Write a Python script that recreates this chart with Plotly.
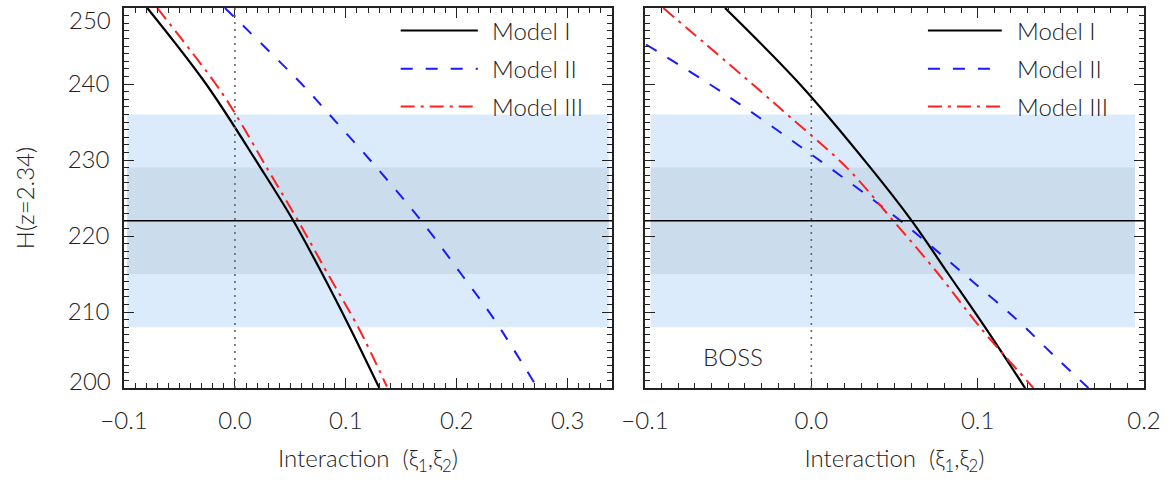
import plotly.graph_objects as go

# ---------------- data ----------------
# Observed H(z=2.34) (BOSS) and its 1-sigma error
H_OBS = 222.0
H_SIG = 7.0
XI_REF = 0.0

# Left panel
L_XI_I = [-0.079, -0.026, 0.023, 0.0527, 0.0792, 0.1038, 0.1302]
L_H_I = [250.0, 240.0, 229.0, 222.0, 214.9, 207.9, 200.0]
L_XI_II = [-0.009, 0.0602, 0.0851, 0.1278, 0.168, 0.2045, 0.233, 0.272]
L_H_II = [250.0, 240.0, 236.0, 229.0, 222.0, 214.9, 209.2, 200.2]
L_XI_III = [-0.070, -0.0173, 0.0007, 0.0287, 0.057, 0.0842, 0.1115, 0.137]
L_H_III = [250.0, 240.0, 236.0, 229.0, 222.0, 214.9, 207.9, 200.2]

# Right panel
R_XI_I = [-0.0519, -0.007, 0.0355, 0.0604, 0.0824, 0.1044, 0.1285]
R_H_I = [250.0, 240.0, 229.0, 222.0, 215.0, 208.0, 200.0]
R_XI_II = [-0.0994, -0.0529, 0.0002, 0.0513, 0.0724, 0.0954, 0.1235, 0.1476, 0.1666]
R_H_II = [245.2, 238.8, 230.7, 222.4, 218.6, 214.3, 209.0, 203.9, 200.0]
R_XI_III = [-0.089, -0.0355, -0.0146, 0.0213, 0.0493, 0.0764, 0.1014, 0.1335]
R_H_III = [250.0, 240.0, 236.0, 229.0, 222.0, 215.0, 208.0, 200.0]

MODEL_NAMES = ["Model I", "Model II", "Model III"]
X_TICKS_L = [-0.1, 0.0, 0.1, 0.2, 0.3]
X_TICKS_R = [-0.1, 0.0, 0.1, 0.2]
Y_TICKS = [210, 220, 230, 240]
Y_END_TICKS = [250, 200]

# ---------------- style ----------------
FONT = "Lato, DejaVu Sans, sans-serif"
TXT = "#222222"
AX = "#222222"
STY = [
    dict(color="black", width=2.2, dash="solid"),
    dict(color="#1a1aff", width=2, dash="12px,13px"),
    dict(color="#ff2020", width=2, dash="14px,6px,3px,6px"),
]
LIGHT = "#dcebfb"
DARK = "#cbdcec"


def fnt(size=24):
    return dict(family=FONT, size=size, color=TXT, weight=300)


W, H = 1172, 480
fig = go.Figure()

panels = [
    ("x", "y", [L_XI_I, L_XI_II, L_XI_III], [L_H_I, L_H_II, L_H_III], [-0.097, 0.337]),
    ("x2", "y2", [R_XI_I, R_XI_II, R_XI_III], [R_H_I, R_H_II, R_H_III], [-0.0966, 0.1946]),
]

for xa, ya, xs, hs, band_x in panels:
    # bands
    fig.add_shape(type="rect", xref=xa, yref=ya, x0=band_x[0], x1=band_x[1],
                  y0=H_OBS - 2 * H_SIG, y1=H_OBS + 2 * H_SIG,
                  fillcolor=LIGHT, line_width=0, layer="below")
    fig.add_shape(type="rect", xref=xa, yref=ya, x0=band_x[0], x1=band_x[1],
                  y0=H_OBS - H_SIG, y1=H_OBS + H_SIG,
                  fillcolor=DARK, line_width=0, layer="below")
    # reference lines
    fig.add_shape(type="line", xref=xa + " domain", yref=ya, x0=0, x1=1,
                  y0=H_OBS, y1=H_OBS, line=dict(color="black", width=1.5))
    fig.add_shape(type="line", xref=xa, yref=ya + " domain", x0=XI_REF, x1=XI_REF,
                  y0=0, y1=1, line=dict(color="#666666", width=1.6, dash="2px,5px"))
    for i in range(3):
        fig.add_trace(go.Scatter(x=xs[i], y=hs[i], mode="lines", name=MODEL_NAMES[i],
                                 xaxis=xa, yaxis=ya,
                                 line=dict(shape="spline", smoothing=1.0, **STY[i]),
                                 showlegend=False, cliponaxis=True))

# legends (drawn in axis-domain coordinates)
leg_rows = [0.941, 0.840, 0.741]
leg_geo = [("x", "y", 0.567, 0.725, 0.750), ("x2", "y2", 0.567, 0.715, 0.741)]
for xa, ya, lx0, lx1, tx in leg_geo:
    for i in range(3):
        fig.add_shape(type="line", xref=xa + " domain", yref=ya + " domain",
                      x0=lx0, x1=lx1, y0=leg_rows[i], y1=leg_rows[i],
                      line=dict(color=STY[i]["color"], width=2, dash=STY[i]["dash"]))
        fig.add_annotation(xref=xa + " domain", yref=ya + " domain", x=tx, y=leg_rows[i],
                           text=MODEL_NAMES[i], showarrow=False, xanchor="left", yanchor="middle",
                           font=fnt())

fig.add_annotation(xref="x2 domain", yref="y2 domain", x=0.177, y=0.083, text="BOSS",
                   showarrow=False, xanchor="center", yanchor="middle", font=fnt())

# end tick labels of the y axis (shifted inward as in the original)
fig.add_annotation(xref="paper", yref="y", x=112.7 / W, y=Y_END_TICKS[0], text=str(Y_END_TICKS[0]),
                   showarrow=False, xanchor="right", yanchor="middle", yshift=-11, font=fnt())
fig.add_annotation(xref="paper", yref="y", x=112.7 / W, y=Y_END_TICKS[1], text=str(Y_END_TICKS[1]),
                   showarrow=False, xanchor="right", yanchor="middle", yshift=8, font=fnt())

xcommon = dict(showline=True, linecolor=AX, linewidth=1.5, mirror="allticks",
               ticks="inside", ticklen=10, tickwidth=1.2, tickcolor=AX,
               minor=dict(dtick=0.01, ticks="inside", ticklen=5, tickwidth=1, tickcolor=AX),
               showgrid=False, zeroline=False,
               tickfont=fnt(), ticklabelstandoff=10,
               title=dict(text="Interaction  (ξ<sub>1</sub>,ξ<sub>2</sub>)", standoff=18, font=fnt()),
               automargin=False)
ycommon = dict(showline=True, linecolor=AX, linewidth=1.5, mirror="allticks",
               ticks="inside", ticklen=10, tickwidth=1.2, tickcolor=AX,
               minor=dict(dtick=1, ticks="inside", ticklen=5, tickwidth=1, tickcolor=AX),
               showgrid=False, zeroline=False, range=[200, 250],
               tickfont=fnt(), automargin=False)

fig.update_layout(
    width=W, height=H,
    margin=dict(l=0, r=0, t=8, b=92),
    plot_bgcolor="white", paper_bgcolor="white",
    showlegend=False,
    xaxis=dict(domain=[124 / W, 612 / W], range=[-0.1, 0.34], tickvals=X_TICKS_L,
               ticktext=["\u22120.1", "0.0", "0.1", "0.2", "0.3"], anchor="y", **xcommon),
    xaxis2=dict(domain=[645 / W, 1144 / W], range=[-0.1, 0.2], tickvals=X_TICKS_R,
                ticktext=["\u22120.1", "0.0", "0.1", "0.2"], anchor="y2", **xcommon),
    yaxis=dict(anchor="x", tickvals=Y_TICKS, ticklabelstandoff=8,
               title=dict(text="H(z=2.34)", standoff=26, font=fnt()),
               **ycommon),
    yaxis2=dict(anchor="x2", tickvals=Y_TICKS, showticklabels=False, **ycommon),
)

fig.write_html("out.html", config={"displayModeBar": False},
               post_script="document.body.style.margin='0';")
